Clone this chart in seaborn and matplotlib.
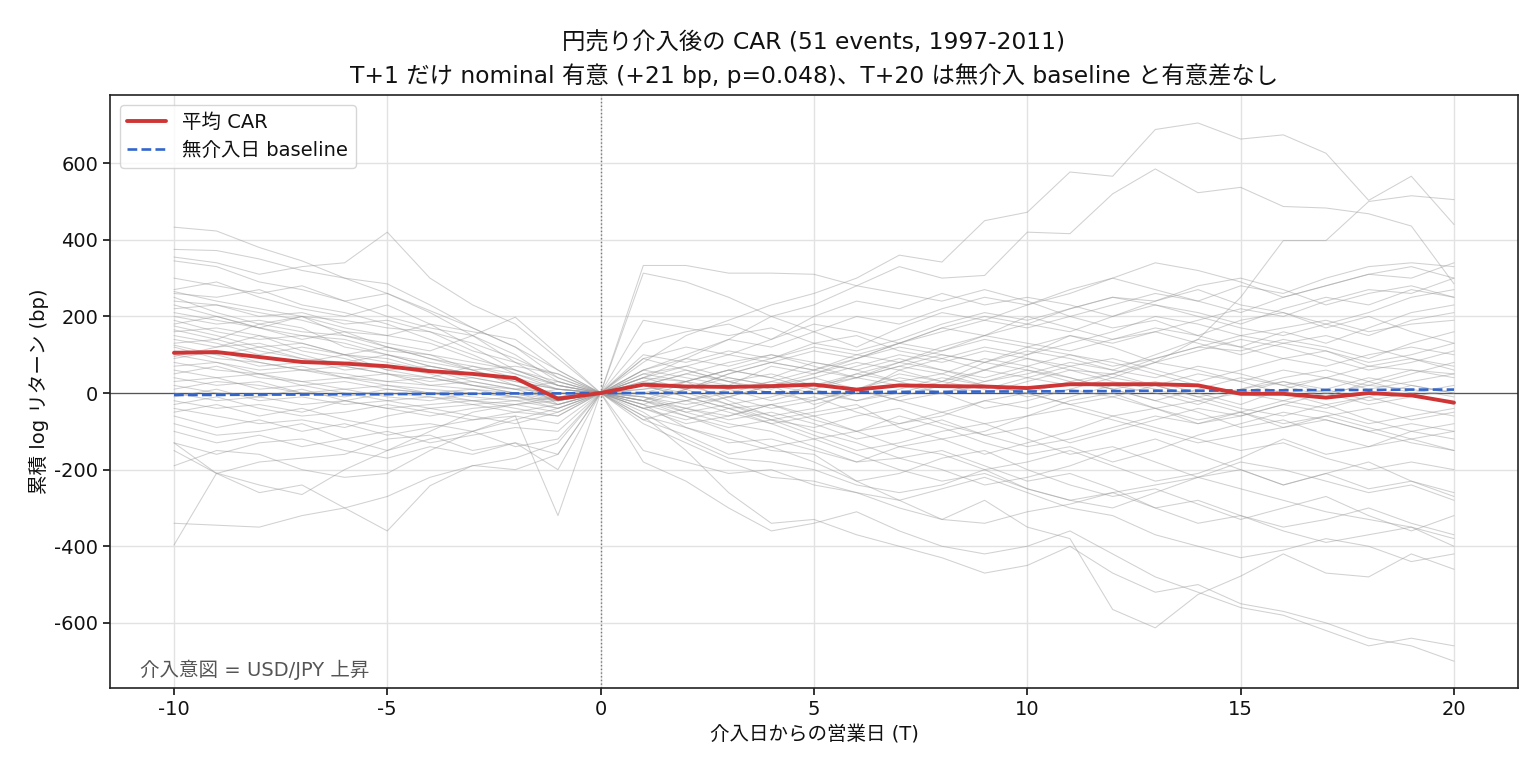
import numpy as np
import pandas as pd
import matplotlib
matplotlib.use('Agg')
import matplotlib.pyplot as plt
import seaborn as sns

# Event window: T = -10 ... +20 business days around the intervention
days = list(range(-10, 21))

# Mean CAR and the no-intervention baseline (bp)
mean_car = [105, 107, 94, 81, 77, 70, 57, 50, 39, -15, 0,
            22, 17, 16, 18, 22, 9, 20, 18, 17, 13, 23, 23, 23, 20, -2, -2, -12, 0, -6, -25]
baseline = [-5, -5, -4, -4, -3, -3, -2, -2, -1, -1, 0,
            0, 1, 1, 2, 2, 3, 3, 3, 4, 4, 5, 5, 6, 6, 7, 7, 8, 8, 9, 9]

# Individual event paths (bp)
e01 = [433, 423, 380, 345, 300, 260, 215, 170, 120, 60, 0, 40, 30, -20, -60, -40, 10, 50, 30, 80, 110, 90, 60, 100, 140, 120, 160, 130, 170, 210, 230]
e02 = [375, 372, 350, 320, 300, 285, 230, 170, 120, 40, 0, 80, 150, 190, 230, 260, 300, 360, 342, 450, 472, 577, 566, 688, 705, 663, 674, 626, 503, 566, 440]
e03 = [355, 340, 310, 330, 340, 420, 300, 230, 180, 90, 0, 40, 90, 140, 200, 230, 280, 330, 300, 307, 420, 416, 520, 585, 523, 537, 487, 483, 468, 436, 285]
e04 = [345, 330, 290, 270, 240, 260, 210, 150, 100, 30, 0, -20, 10, 40, 20, -30, 0, 60, 90, 60, 100, 150, 120, 80, 140, 250, 398, 398, 500, 515, 505]
e05 = [300, 280, 260, 280, 240, 200, 170, 150, 80, 50, 0, 333, 333, 313, 313, 310, 280, 260, 240, 270, 240, 200, 170, 190, 150, 120, 90, 110, 70, 60, 40]
e06 = [270, 290, 250, 220, 200, 230, 180, 120, 60, 20, 0, 313, 290, 250, 200, 160, 120, 170, 210, 190, 230, 260, 300, 270, 240, 280, 260, 300, 330, 340, 330]
e07 = [265, 240, 220, 200, 190, 170, 160, 130, 90, 40, 0, 20, -10, -40, -70, -50, -30, -90, -120, -100, -60, -20, 0, -40, -80, -60, -30, 0, 20, 10, -10]
e08 = [260, 250, 270, 230, 210, 180, 140, 100, 50, 10, 0, -50, -120, -170, -180, -200, -240, -260, -240, -200, -250, -280, -300, -260, -220, -180, -200, -230, -260, -240, -280]
e09 = [250, 210, 180, 160, 150, 120, 90, 70, 40, -10, 0, 90, 120, 100, 140, 180, 160, 130, 170, 200, 180, 220, 250, 230, 200, 170, 150, 180, 210, 250, 270]
e10 = [240, 230, 200, 210, 180, 190, 160, 110, 80, 20, 0, 10, 30, 60, 40, 80, 60, 30, 50, 90, 70, 40, 10, -20, 10, 40, 20, -10, 30, 60, 50]
e11 = [230, 200, 170, 150, 140, 110, 100, 60, 20, -20, 0, -40, -20, 10, 30, 60, 40, 70, 100, 80, 120, 150, 130, 160, 190, 220, 200, 240, 270, 260, 300]
e12 = [220, 230, 210, 190, 160, 150, 130, 90, 60, 30, 0, 60, 40, 20, 70, 50, 90, 120, 100, 80, 60, 30, 50, 20, -10, -40, -60, -30, -70, -100, -120]
e13 = [200, 180, 190, 170, 120, 100, 80, 60, 30, 10, 0, -20, -60, -90, -70, -110, -150, -130, -100, -80, -120, -160, -140, -180, -220, -200, -240, -210, -250, -230, -260]
e14 = [190, 160, 140, 150, 130, 100, 70, 50, 40, -30, 0, 130, 160, 180, 140, 200, 240, 220, 260, 230, 250, 230, 200, 240, 280, 300, 270, 230, 260, 280, 250]
e15 = [180, 200, 170, 140, 160, 120, 100, 80, 60, 20, 0, 20, 50, 80, 100, 70, 40, 80, 120, 150, 130, 110, 140, 170, 150, 190, 210, 180, 150, 190, 210]
e16 = [175, 150, 120, 130, 100, 90, 60, 40, 20, -10, 0, -10, -40, -60, -30, -10, -50, -80, -60, -20, 0, 30, 10, -20, -50, -90, -70, -110, -140, -120, -150]
e17 = [160, 170, 150, 110, 90, 60, 70, 50, 30, 10, 0, 50, 70, 40, 20, 50, 80, 60, 30, 10, 40, 70, 90, 60, 30, 60, 90, 70, 100, 120, 100]
e18 = [150, 130, 100, 120, 100, 80, 60, 30, 10, -20, 0, 40, 10, -30, -60, -100, -130, -170, -150, -190, -230, -210, -250, -300, -280, -320, -350, -330, -300, -340, -370]
e19 = [140, 120, 130, 100, 70, 50, 40, 20, 0, -20, 0, 190, 170, 150, 170, 130, 110, 140, 180, 210, 190, 220, 250, 240, 270, 230, 210, 170, 200, 160, 130]
e20 = [130, 140, 110, 90, 80, 100, 70, 50, 40, 10, 0, -60, -90, -130, -120, -150, -180, -140, -160, -200, -180, -150, -190, -230, -210, -170, -120, -160, -140, -100, -80]
e21 = [120, 90, 80, 60, 70, 50, 30, 40, 20, 0, 0, 30, 60, 30, 0, -20, 10, 40, 20, 60, 90, 70, 40, 80, 110, 140, 120, 90, 60, 80, 110]
e22 = [110, 100, 120, 90, 60, 70, 50, 20, 0, -30, 0, -30, -90, -120, -150, -160, -230, -280, -330, -280, -350, -380, -565, -613, -526, -478, -420, -470, -480, -420, -460]
e23 = [100, 80, 60, 70, 40, 30, 20, 10, 0, -10, 0, 100, 80, 110, 90, 130, 150, 110, 90, 120, 100, 130, 160, 200, 180, 150, 170, 190, 160, 180, 190]
e24 = [90, 110, 80, 60, 50, 30, 40, 20, 10, 30, 0, -20, -50, -30, -70, -90, -60, -40, -80, -110, -90, -130, -100, -70, -40, -60, -30, -50, -80, -60, -40]
e25 = [80, 60, 50, 30, 40, 20, 10, 0, -10, -30, 0, 10, 20, -10, 20, 40, 10, -20, 0, 20, -10, 10, 40, 20, -10, 10, 30, 0, -30, -10, 10]
e26 = [70, 80, 50, 60, 40, 50, 20, 30, 10, 0, 0, -30, 10, 50, 80, 110, 90, 130, 170, 150, 200, 170, 140, 160, 130, 100, 130, 150, 120, 90, 60]
e27 = [60, 40, 50, 20, 30, 10, 0, -20, -10, -40, 0, -180, -230, -300, -360, -340, -310, -360, -400, -420, -400, -360, -420, -480, -520, -560, -580, -620, -660, -640, -660]
e28 = [50, 70, 40, 30, 10, 20, 0, 10, -10, -20, 0, 60, 90, 70, 100, 80, 60, 90, 60, 30, 50, 80, 60, 40, 70, 50, 20, 40, 70, 90, 70]
e29 = [40, 20, 30, 0, 10, -10, -20, 0, -10, 10, 0, 20, 0, -30, -10, 20, 50, 30, 0, -40, -20, 10, -10, -40, -70, -50, -80, -60, -40, -70, -50]
e30 = [30, 40, 10, 20, 0, -20, -10, -30, -20, -10, 0, -20, -40, -70, -50, -80, -120, -100, -70, -110, -140, -120, -90, -60, -80, -50, -20, -40, -10, 20, 0]
e31 = [20, 0, -10, 10, -20, 0, -10, -20, -30, -50, 0, 40, 70, 100, 80, 60, 100, 130, 160, 190, 170, 200, 230, 260, 240, 210, 250, 280, 310, 300, 340]
e32 = [10, 30, 20, 0, -10, 10, 0, -10, -20, -40, 0, -10, -30, -10, 20, 0, -20, 10, 40, 20, 0, -30, -60, -40, -20, -50, -90, -70, -100, -80, -100]
e33 = [0, -20, -10, -30, -20, -40, -30, -20, -40, -60, 0, 50, 30, 60, 90, 120, 100, 80, 110, 140, 120, 100, 70, 90, 120, 150, 130, 110, 80, 100, 130]
e34 = [-10, 10, -20, -10, -30, -20, -40, -30, -50, -30, 0, -30, -60, -100, -140, -120, -160, -200, -230, -210, -250, -280, -260, -300, -340, -320, -360, -390, -370, -350, -400]
e35 = [-20, -40, -30, -50, -20, -40, -60, -40, -30, -20, 0, 20, 50, 30, 10, 40, 70, 100, 80, 110, 90, 60, 30, 10, -20, 0, 30, 10, -20, 0, 20]
e36 = [-30, -10, -40, -60, -50, -30, -50, -70, -60, -80, 0, -40, -20, 0, 30, 10, -20, 0, 30, 60, 40, 20, 50, 80, 60, 30, 0, -30, -10, -40, -60]
e37 = [-40, -60, -80, -70, -90, -60, -40, -60, -80, -50, 0, 90, 60, 30, 50, 20, 40, 70, 50, 20, 0, -30, -10, 20, 50, 30, 60, 40, 10, 30, 50]
e38 = [-50, -30, -60, -40, -70, -90, -80, -100, -70, -40, 0, -70, -110, -160, -140, -180, -230, -210, -170, -150, -200, -240, -270, -250, -290, -330, -300, -270, -320, -360, -320]
e39 = [-60, -90, -70, -100, -80, -110, -90, -70, -50, -60, 0, 0, -20, -50, -80, -60, -100, -140, -120, -160, -130, -100, -60, -90, -120, -150, -130, -170, -200, -180, -200]
e40 = [-80, -110, -100, -80, -120, -100, -130, -110, -90, -100, 0, 30, 10, 50, 80, 60, 90, 130, 110, 150, 180, 160, 200, 230, 210, 180, 220, 250, 230, 270, 250]
e41 = [-100, -130, -110, -140, -120, -150, -120, -100, -140, -120, 0, -60, -150, -260, -340, -330, -370, -400, -430, -470, -450, -400, -470, -520, -500, -550, -570, -600, -640, -660, -700]
e42 = [-130, -160, -130, -120, -150, -170, -140, -160, -130, -160, 0, 60, 100, 140, 120, 160, 200, 180, 220, 250, 230, 270, 300, 340, 320, 290, 250, 280, 310, 330, 300]
e43 = [-150, -210, -180, -170, -160, -120, -110, -150, -130, -200, 0, -40, -70, -40, -80, -120, -100, -60, -90, -130, -160, -140, -180, -150, -110, -80, -50, -70, -100, -130, -150]
e44 = [-190, -150, -160, -200, -220, -210, -150, -100, -60, -320, 0, -20, 30, 60, 40, 10, 50, 80, 60, 40, 70, 100, 80, 50, 20, 0, -20, 10, 40, 20, 0]
e45 = [-340, -345, -350, -320, -300, -270, -220, -190, -170, -130, 0, -150, -180, -210, -200, -240, -260, -300, -330, -340, -310, -290, -260, -240, -220, -250, -280, -310, -330, -350, -380]
e46 = [-397, -209, -240, -265, -200, -150, -100, -50, -30, -10, 0, -80, -130, -180, -220, -230, -260, -280, -250, -220, -260, -300, -320, -370, -400, -430, -410, -380, -400, -440, -420]
e47 = [-130, -210, -260, -240, -300, -360, -242, -189, -200, -160, 0, -10, -50, -80, -100, -140, -180, -170, -200, -240, -220, -190, -150, -120, -160, -200, -240, -210, -180, -230, -270]
e48 = [210, 190, 170, 200, 150, 130, 110, 150, 198, 100, 0, -40, -80, -60, -30, -70, -100, -80, -50, -20, -40, -10, 20, 0, -30, 10, 40, 60, 30, 0, -30]
e49 = [165, 140, 180, 200, 170, 150, 180, 160, 140, 60, 0, 0, 30, 10, -20, 10, 40, 20, 0, 30, 60, 40, 10, 30, 0, -30, 10, 40, 20, 50, 80]
e50 = [95, 120, 150, 130, 100, 120, 90, 60, 70, 50, 0, 20, -10, -40, -30, -60, -40, -10, 20, 0, 30, 60, 50, 90, 120, 110, 140, 120, 90, 130, 160]
e51 = [125, 100, 70, 80, 100, 60, 40, 70, 50, 20, 0, -70, -40, -10, -40, -20, 10, -20, -50, -80, -60, -40, -70, -100, -130, -110, -90, -60, -90, -120, -100]

events = [e01, e02, e03, e04, e05, e06, e07, e08, e09, e10, e11, e12, e13, e14, e15, e16, e17,
          e18, e19, e20, e21, e22, e23, e24, e25, e26, e27, e28, e29, e30, e31, e32, e33, e34,
          e35, e36, e37, e38, e39, e40, e41, e42, e43, e44, e45, e46, e47, e48, e49, e50, e51]

# long table for seaborn
rows = []
for i, ev in enumerate(events):
    for t, v in zip(days, ev):
        rows.append({'event': i, 'T': t, 'car': v})
df = pd.DataFrame(rows)
summary = pd.DataFrame({'T': days, 'mean': mean_car, 'base': baseline})

sns.set_theme(style='ticks')
plt.rcParams['font.family'] = ['DejaVu Sans', 'Noto Sans CJK JP']
plt.rcParams['axes.unicode_minus'] = False
for key in ['text.color', 'axes.labelcolor', 'xtick.color', 'ytick.color']:
    plt.rcParams[key] = '#111111'

fig, ax = plt.subplots(figsize=(15.4, 7.7), dpi=100)
fig.subplots_adjust(left=0.0714, right=0.9857, top=0.8766, bottom=0.1065)

sns.lineplot(data=df, x='T', y='car', units='event', estimator=None,
             color='#999999', alpha=0.45, linewidth=0.75, ax=ax, legend=False)
ax.axhline(0, color='#555555', linewidth=0.9, zorder=1)
ax.axvline(0, color='#777777', linewidth=1.0, linestyle=':', zorder=1)

sns.lineplot(data=summary, x='T', y='mean', color='#d03535', linewidth=2.8,
             label='平均 CAR', ax=ax, zorder=5)
sns.lineplot(data=summary, x='T', y='base', color='#3366cc', linewidth=1.9,
             linestyle='--', label='無介入日 baseline', ax=ax, zorder=4)

ax.set_xlim(-11.5, 21.5)
ax.set_ylim(-770, 778)
ax.set_xticks([-10, -5, 0, 5, 10, 15, 20])
ax.set_yticks([-600, -400, -200, 0, 200, 400, 600])
ax.grid(True, color='#e2e2e2', linewidth=1.0)
ax.tick_params(labelsize=14, length=5, width=1.2)
for s in ax.spines.values():
    s.set_color('#222222')
    s.set_linewidth(1.2)

ax.set_xlabel('介入日からの営業日 (T)', fontsize=14)
ax.set_ylabel('累積 log リターン (bp)', fontsize=14)
ax.set_title('円売り介入後の CAR (51 events, 1997-2011)\n'
             'T+1 だけ nominal 有意 (+21 bp, p=0.048)、T+20 は無介入 baseline と有意差なし',
             fontsize=16.8, linespacing=1.45, pad=9)
ax.text(0.021, 0.02, '介入意図 = USD/JPY 上昇', transform=ax.transAxes,
        fontsize=14, color='#555555')
ax.legend(loc='upper left', fontsize=14, frameon=True)

plt.savefig('out.png', dpi=100)
